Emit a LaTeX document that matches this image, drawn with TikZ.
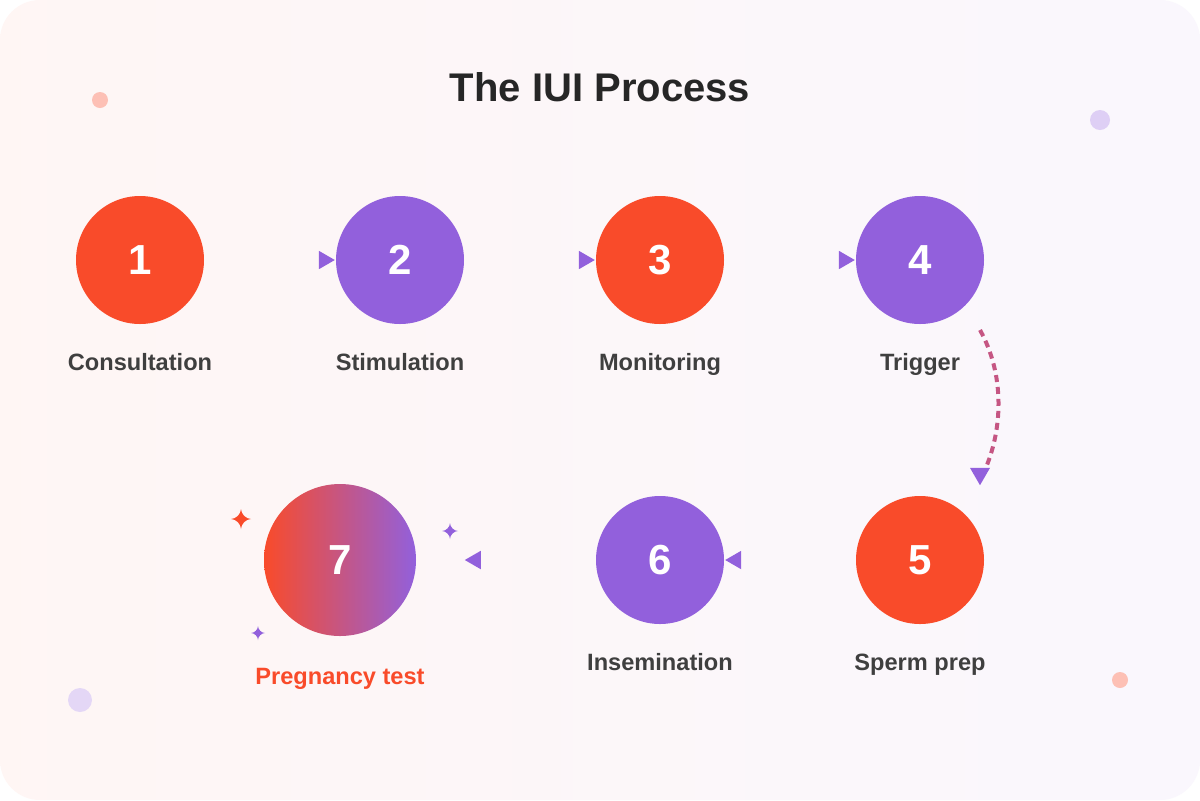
\documentclass[tikz,border=0pt]{standalone}
\usepackage{fontspec}
\setmainfont{Liberation Sans}
\usetikzlibrary{shapes.geometric}
\definecolor{iuiorange}{HTML}{F94B2A}
\definecolor{iuipurple}{HTML}{9260DC}
\definecolor{iuitext}{HTML}{3F3F3F}
\tikzset{
  stepcircle/.style={circle, minimum size=64pt, inner sep=0pt, text=white, font=\bfseries\fontsize{21}{21}\selectfont},
  orangestep/.style={stepcircle, fill=iuiorange},
  purplestep/.style={stepcircle, fill=iuipurple},
  steplabel/.style={anchor=base, text=iuitext, font=\bfseries\fontsize{11.8}{12}\selectfont},
  tip/.style={isosceles triangle, isosceles triangle apex angle=60, fill=iuipurple, inner sep=0pt, minimum height=8pt, minimum width=9pt},
}
\newcommand{\sparkle}[3]{\fill[#3] (#1) ++(0,#2) .. controls +(0,-0.5*#2) and +(0.5*#2,0) .. ++(-#2,-#2) .. controls +(0.5*#2,0) and +(0,0.5*#2) .. ++(#2,-#2) .. controls +(0,0.5*#2) and +(-0.5*#2,0) .. ++(#2,#2) .. controls +(-0.5*#2,0) and +(0,-0.5*#2) .. ++(-#2,#2) -- cycle;}
\begin{document}
\begin{tikzpicture}[x=0.5pt, y=-0.5pt]
\useasboundingbox (0,0) rectangle (1200,800);
\fill[white] (0,0) rectangle (1200,800);

% Background card
\shade[rounded corners=20pt, left color=iuiorange!5, right color=iuipurple!5]
  (0,0) rectangle (1200,800);

% Decorative dots
\fill[iuiorange!35] (100,100) circle (8);
\fill[iuipurple!30] (1100,120) circle (10);
\fill[iuipurple!25] (80,700) circle (12);
\fill[iuiorange!35] (1120,680) circle (8);

% Title
\node[font=\bfseries\fontsize{20}{20}\selectfont, text=black!85] (title) at (600,87) {The IUI Process};

% Top row
\node[orangestep] (s1) at (140,260) {1};
\node[purplestep] (s2) at (400,260) {2};
\node[orangestep] (s3) at (660,260) {3};
\node[purplestep] (s4) at (920,260) {4};
\node[steplabel] (l1) at (140,370) {Consultation};
\node[steplabel] (l2) at (400,370) {Stimulation};
\node[steplabel] (l3) at (660,370) {Monitoring};
\node[steplabel] (l4) at (920,370) {Trigger};

% Bottom row
\node[orangestep] (s5) at (920,560) {5};
\node[purplestep] (s6) at (660,560) {6};
\node[stepcircle, minimum size=76pt] (s7) at (340,560) {};
\shade[left color=iuiorange, right color=iuipurple] (s7.center) circle (76);
\node[text=white, font=\bfseries\fontsize{21}{21}\selectfont] at (s7.center) {7};
\node[steplabel] (l5) at (920,670) {Sperm prep};
\node[steplabel] (l6) at (660,670) {Insemination};
\node[steplabel, text=iuiorange] (l7) at (340,684) {Pregnancy test};

% Arrow tips
\node[tip, anchor=apex] at (s2.west) {};
\node[tip, anchor=apex] at (s3.west) {};
\node[tip, anchor=apex] at (s4.west) {};
\node[tip, anchor=apex, shape border rotate=180] at (s6.east) {};
\node[tip, anchor=apex, shape border rotate=180] at (464,560) {};

% Trigger to sperm prep
\coordinate (bendstart) at (980,330);
\coordinate (bendend) at (984,472);
\draw[line width=2pt, dash pattern=on 3.5pt off 2.5pt, color=iuiorange!50!iuipurple]
  (bendstart) .. controls (1005,375) and (1003,430) .. (bendend);
\node[tip, anchor=apex, shape border rotate=-90, minimum width=10pt] at (980,486) {};

% Sparkles
\sparkle{241,519}{10}{iuiorange}
\sparkle{450,531}{8}{iuipurple}
\sparkle{258,633}{7}{iuipurple}
\end{tikzpicture}
\end{document}
